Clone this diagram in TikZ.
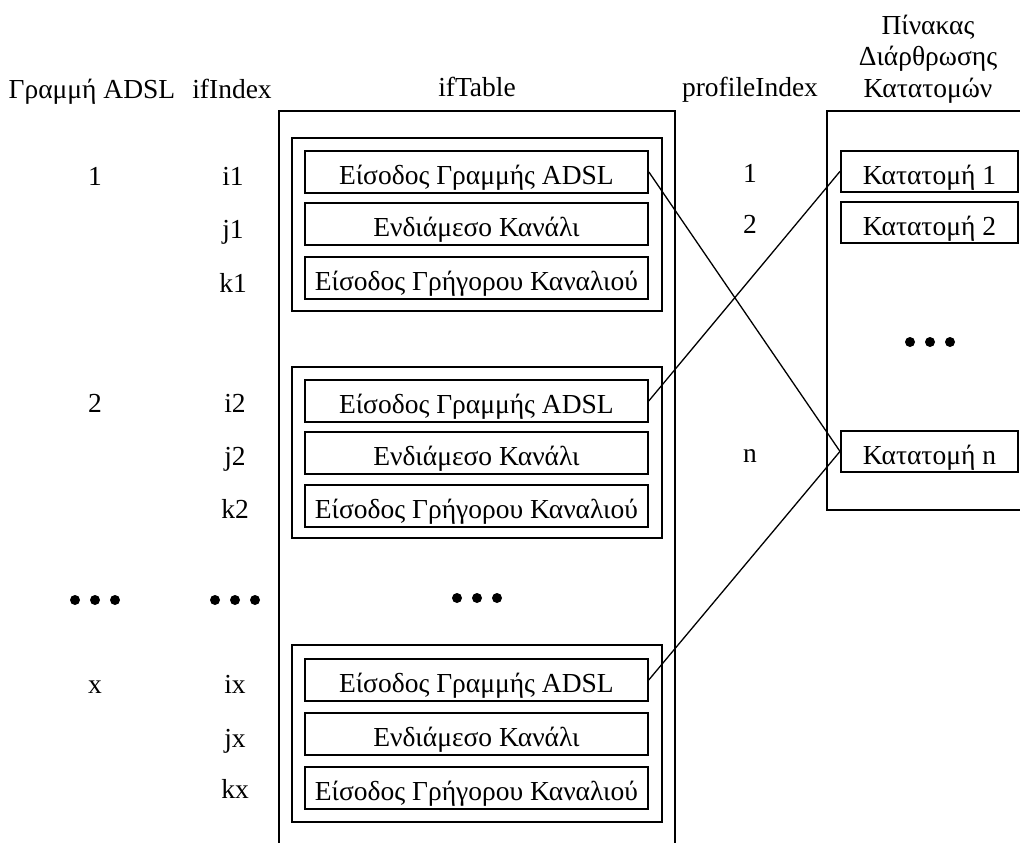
\documentclass[tikz,border=0pt]{standalone}
\usepackage{fontspec}
\setmainfont{Liberation Serif}
\newcommand\tridots[2]{\foreach \d in {-20,0,20} \fill ({#1+\d},#2) circle (5pt);}
\begin{document}
\begin{tikzpicture}[x=1pt,y=-1pt,
  every node/.style={font=\fontsize{27.5}{31}\selectfont, inner sep=0pt},
  frame/.style={draw, line width=1.8pt},
  cell/.style={draw, line width=1.8pt, minimum width=343pt, minimum height=42pt,
    text height=30pt, text depth=4pt, anchor=north west},
  prof/.style={draw, line width=1.8pt, minimum width=177pt, minimum height=41pt,
    text height=30pt, text depth=4pt, anchor=north west},
  lbl/.style={anchor=base},
  link/.style={line width=1.3pt}]
\useasboundingbox (0,0) rectangle (1020,843);

% column headings
\node[lbl] (hline) at (92,98) {Γραμμή ADSL};
\node[lbl] (hidx) at (232,98) {ifIndex};
\node[lbl] (htab) at (477,96) {ifTable};
\node[lbl] (hprof) at (750,96) {profileIndex};
\node[lbl] (hp1) at (928,35) {Πίνακας};
\node[lbl] (hp2) at (928,66) {Διάρθρωσης};
\node[lbl] (hp3) at (928,97) {Κατατομών};

% ifTable
\draw[frame] (279,843) -- (279,111) -- (675,111) -- (675,843);
\draw[frame] (292,138) rectangle (662,311);
\draw[frame] (292,367) rectangle (662,538);
\draw[frame] (292,645) rectangle (662,822);

\node[cell] (a1) at (304,150) {Είσοδος Γραμμής ADSL};
\node[cell] (b1) at (304,202) {Ενδιάμεσο Κανάλι};
\node[cell] (c1) at (304,256) {Είσοδος Γρήγορου Καναλιού};
\node[cell] (a2) at (304,379) {Είσοδος Γραμμής ADSL};
\node[cell] (b2) at (304,431) {Ενδιάμεσο Κανάλι};
\node[cell] (c2) at (304,484) {Είσοδος Γρήγορου Καναλιού};
\node[cell] (a3) at (304,658) {Είσοδος Γραμμής ADSL};
\node[cell] (b3) at (304,712) {Ενδιάμεσο Κανάλι};
\node[cell] (c3) at (304,766) {Είσοδος Γρήγορου Καναλιού};
\tridots{477}{598}

% line numbers and ifIndex values
\node[lbl] (l1) at (95,185) {1};
\node[lbl] (i1) at (233,185) {i1};
\node[lbl] (j1) at (233,238) {j1};
\node[lbl] (k1) at (233,292) {k1};
\node[lbl] (l2) at (95,412) {2};
\node[lbl] (i2) at (235,412) {i2};
\node[lbl] (j2) at (235,465) {j2};
\node[lbl] (k2) at (235,518) {k2};
\tridots{95}{600}
\tridots{235}{600}
\node[lbl] (lx) at (95,693) {x};
\node[lbl] (ix) at (235,693) {ix};
\node[lbl] (jx) at (235,747) {jx};
\node[lbl] (kx) at (235,798) {kx};

% profile table
\draw[frame] (1020,111) -- (827,111) -- (827,510) -- (1020,510);
\node[prof] (p1) at (840,150) {Κατατομή 1};
\node[prof] (p2) at (840,201) {Κατατομή 2};
\node[prof] (pn) at (840,430) {Κατατομή n};
\tridots{930}{342}

\node[lbl] (n1) at (750,182) {1};
\node[lbl] (n2) at (750,233) {2};
\node[lbl] (nn) at (750,462) {n};

% profile assignments
\draw[link] (a1.east) -- (pn.west);
\draw[link] (a2.east) -- (p1.west);
\draw[link] (a3.east) -- (pn.west);
\end{tikzpicture}
\end{document}
